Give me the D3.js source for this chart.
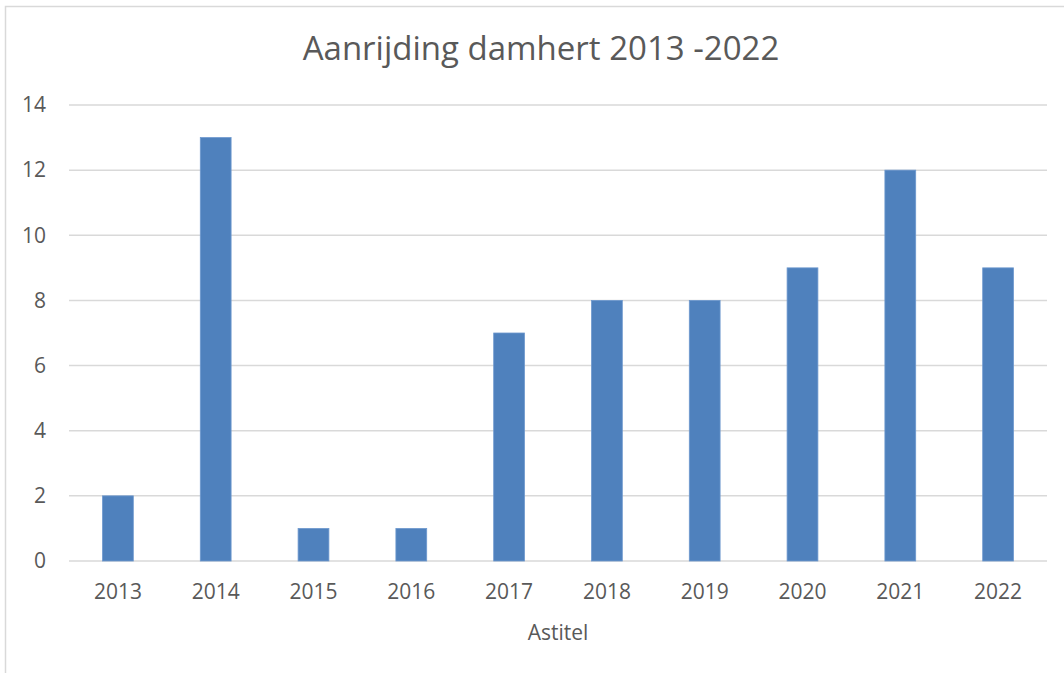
<!DOCTYPE html>
<html><head><meta charset="utf-8">
<script src="https://cdn.jsdelivr.net/npm/d3@7"></script>
<style>body{margin:0;background:#fff}svg{display:block}text{font-family:"Open Sans",sans-serif;fill:#595959}</style>
</head><body>
<script>
const categories = ["2013","2014","2015","2016","2017","2018","2019","2020","2021","2022"];
const values = [2,13,1,1,7,8,8,9,12,9];
const yTicks = [0,2,4,6,8,10,12,14];
const title = "Aanrijding damhert 2013 -2022";
const xTitle = "Astitel";

const W=1064,H=673;
const svg=d3.select("body").append("svg").attr("width",W).attr("height",H);
svg.append("rect").attr("x",5.5).attr("y",6.5).attr("width",W+10).attr("height",H+10)
  .attr("fill","#fff").attr("stroke","#d9d9d9").attr("stroke-width",1.5);

const x=d3.scaleBand().domain(categories).range([69,1047]).paddingInner(0.685).paddingOuter(0.3425);
const y=d3.scaleLinear().domain([0,14]).range([561,105]);

svg.append("g").selectAll("line").data(yTicks).join("line")
  .attr("x1",69).attr("x2",1047).attr("y1",d=>y(d)).attr("y2",d=>y(d))
  .attr("stroke","#d9d9d9").attr("stroke-width",1.5);

const yAxis=svg.append("g").attr("transform","translate(69,0)")
  .call(d3.axisLeft(y).tickValues(yTicks).tickSize(0).tickPadding(23));
yAxis.select(".domain").remove();
yAxis.selectAll("text").style("font-size","21px").attr("fill","#595959").attr("font-family","'Open Sans',sans-serif");

svg.append("g").selectAll("rect").data(values).join("rect")
  .attr("x",(d,i)=>x(categories[i])).attr("width",x.bandwidth())
  .attr("y",d=>y(d)).attr("height",d=>y(0)-y(d))
  .attr("fill","#4f81bd").attr("stroke","#6e98ce").attr("stroke-width",0.8);

const xAxis=svg.append("g").attr("transform","translate(0,561)")
  .call(d3.axisBottom(x).tickSize(0).tickPadding(23));
xAxis.select(".domain").remove();
xAxis.selectAll("text").style("font-size","21px").attr("fill","#595959").attr("font-family","'Open Sans',sans-serif");

svg.append("text").attr("x",541).attr("y",60).attr("text-anchor","middle")
  .style("font-size","33px").text(title);
svg.append("text").attr("x",558).attr("y",640).attr("text-anchor","middle")
  .style("font-size","21px").text(xTitle);
</script>
</body></html>
